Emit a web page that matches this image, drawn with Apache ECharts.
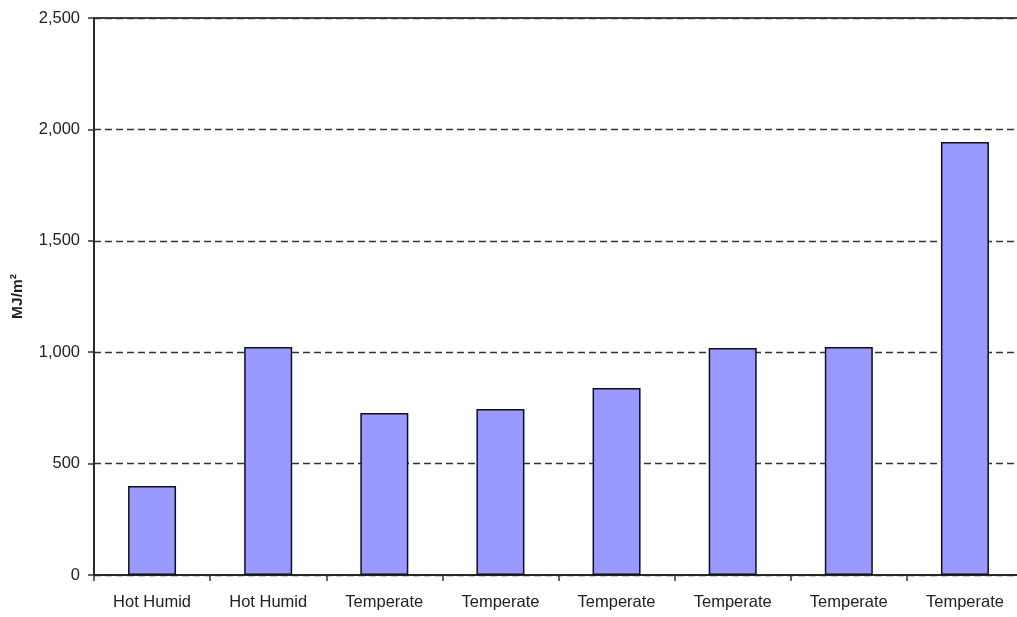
<!DOCTYPE html>
<html>
<head>
<meta charset="utf-8">
<script src="https://cdn.jsdelivr.net/npm/echarts@6/dist/echarts.min.js"></script>
<style>
  html, body { margin: 0; padding: 0; background: #fff; overflow: hidden; }
  /* plot area runs a little past the right edge of the window, as in the source */
  #chart { width: 1023px; height: 617px; }
</style>
</head>
<body>
<div id="chart"></div>
<script>
const categories = ['Hot Humid', 'Hot Humid', 'Temperate', 'Temperate', 'Temperate', 'Temperate', 'Temperate', 'Temperate']
const values = [400, 1023, 727, 745, 839, 1019, 1023, 1943]
const yTicks = { min: 0, max: 2500, interval: 500 }

const chart = echarts.init(document.getElementById('chart'))
chart.setOption({
  animation: false,
  textStyle: { fontFamily: 'Arial, Liberation Sans, sans-serif' },
  grid: {
    left: 94,
    top: 18,
    right: 0,
    bottom: 42,
    show: true,
    borderColor: '#444',
    borderWidth: 2,
    backgroundColor: 'transparent'
  },
  xAxis: {
    type: 'category',
    data: categories,
    axisLine: { lineStyle: { color: '#222', width: 1.5 } },
    axisTick: { show: true, length: 6, inside: false, lineStyle: { color: '#333', width: 1.5 } },
    axisLabel: { color: '#222', fontSize: 16.5, margin: 19, interval: 0 }
  },
  yAxis: {
    type: 'value',
    min: yTicks.min,
    max: yTicks.max,
    interval: yTicks.interval,
    name: 'MJ/m²',
    nameLocation: 'middle',
    nameGap: 68,
    nameTextStyle: { color: '#222', fontSize: 15.5, fontWeight: 'bold' },
    axisLine: { show: true, lineStyle: { color: '#222', width: 1.5 } },
    axisTick: { show: true, length: 6, lineStyle: { color: '#333', width: 1.5 } },
    axisLabel: {
      color: '#222',
      fontSize: 16.5,
      margin: 14,
      formatter: v => v.toLocaleString('en-US')
    },
    splitLine: {
      show: true,
      lineStyle: { color: '#333', width: 1.4, type: [7, 4] }
    }
  },
  series: [{
    type: 'bar',
    data: values,
    barWidth: 48,
    itemStyle: { color: '#9999FF', borderColor: '#111', borderWidth: 1.5 }
  }]
})
</script>
</body>
</html>
